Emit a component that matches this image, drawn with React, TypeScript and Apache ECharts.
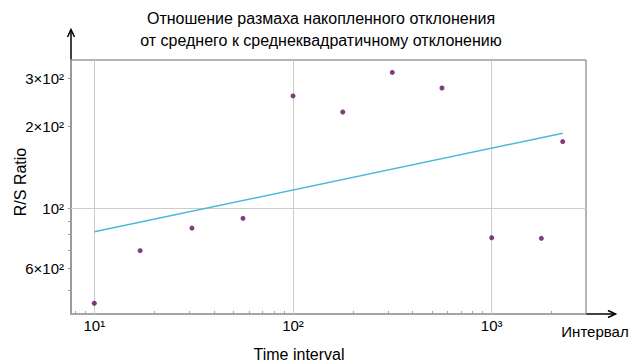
import React, { useEffect, useRef } from "react";
import * as echarts from "echarts";

const intervals = [10, 17, 31, 56, 100, 178, 316, 562, 1000, 1778, 2277];
const rsRatios = [44.8, 69.9, 84.6, 91.9, 259, 226, 316, 277, 78, 77.6, 176];
const fitX = [10, 2280];
const fitY = [82, 189];

const xLabelValues = [10, 100, 1000];
const xLabelTexts = ["10¹", "10²", "10³"];
const yLabelValues = [60, 100, 200, 300];
const yLabelTexts = ["6×10²", "10²", "2×10²", "3×10²"];
const xTickValues = [8, 9, 10, 20, 30, 40, 50, 60, 70, 80, 90, 100, 200, 300, 400, 500, 600, 700, 800, 900, 1000, 2000];
const yTickValues = [50, 60, 70, 80, 90, 100, 200, 300];
const xGridValues = [10, 100, 1000];
const yGridValues = [100];

const titleText = "Отношение размаха накопленного отклонения\nот среднего к среднеквадратичному отклонению";
const xName = "Time interval";
const yName = "R/S Ratio";
const arrowName = "Интервал";

const FONT = "Liberation Sans";

function near(a: number, b: number) {
  return Math.abs(a - b) < 1e-6 * Math.max(1, Math.abs(b));
}

export default function App() {
  const ref = useRef<HTMLDivElement>(null);
  useEffect(() => {
    document.body.style.margin = "0";
    const chart = echarts.init(ref.current!, null, { renderer: "svg" });
    const option: any = {
      animation: false,
      backgroundColor: "#ffffff",
      textStyle: { fontFamily: FONT },
      grid: {
        left: 71,
        right: 46,
        top: 60,
        bottom: 48,
        show: true,
        borderColor: "#6a6a6a",
        borderWidth: 1,
        backgroundColor: "transparent",
      },
      xAxis: {
        type: "log",
        logBase: 10,
        min: 7.63,
        max: 2983,
        axisLine: { show: true, lineStyle: { color: "#a0a0a0", width: 1.5 } },
        axisTick: {
          show: true,
          inside: true,
          length: 3,
          customValues: xTickValues,
          lineStyle: { color: "#a0a0a0" },
        },
        splitLine: { show: false },
        axisLabel: {
          show: true,
          customValues: xLabelValues,
          margin: 4,
          color: "#000",
          fontSize: 15,
          fontFamily: FONT,
          formatter: (v: number) => {
            const i = xLabelValues.findIndex((x) => near(x, v));
            return i >= 0 ? xLabelTexts[i] : "";
          },
        },
      },
      yAxis: {
        type: "log",
        logBase: 10,
        min: 40.9,
        max: 351,
        axisLine: { show: true, lineStyle: { color: "#9a9a9a", width: 2 } },
        axisTick: {
          show: true,
          length: 3,
          customValues: yTickValues,
          lineStyle: { color: "#9a9a9a" },
        },
        splitLine: { show: false },
        axisLabel: {
          show: true,
          customValues: yLabelValues,
          margin: 7,
          color: "#000",
          fontSize: 15,
          fontFamily: FONT,
          formatter: (v: number) => {
            const i = yLabelValues.findIndex((x) => near(x, v));
            return i >= 0 ? yLabelTexts[i] : "";
          },
        },
      },
      series: [
        {
          type: "line",
          data: fitX.map((x, i) => [x, fitY[i]]),
          showSymbol: false,
          symbol: "none",
          lineStyle: { color: "#4db8d8", width: 1.5 },
          z: 3,
          markLine: {
            silent: true,
            symbol: "none",
            label: { show: false },
            lineStyle: { color: "#cccccc", width: 1, type: "solid" },
            data: [
              ...xGridValues.map((v) => ({ xAxis: v })),
              ...yGridValues.map((v) => ({ yAxis: v })),
            ],
            z: 1,
          },
        },
        {
          type: "scatter",
          data: intervals.map((x, i) => [x, rsRatios[i]]),
          symbolSize: 5,
          itemStyle: { color: "#5c0c5e" },
          z: 4,
        },
      ],
      graphic: [
        {
          type: "text",
          x: 321,
          y: 7,
          style: {
            text: titleText,
            fontSize: 16,
            fontFamily: FONT,
            fill: "#000",
            align: "center",
            verticalAlign: "top",
            lineHeight: 22,
          },
        },
        {
          type: "text",
          x: 299,
          y: 354,
          style: {
            text: xName,
            fontSize: 16,
            fontFamily: FONT,
            fill: "#000",
            align: "center",
            verticalAlign: "middle",
          },
        },
        {
          type: "text",
          x: 20,
          y: 182,
          rotation: Math.PI / 2,
          style: {
            text: yName,
            fontSize: 16,
            fontFamily: FONT,
            fill: "#000",
            align: "center",
            verticalAlign: "middle",
          },
        },
        {
          type: "text",
          x: 595,
          y: 331,
          style: {
            text: arrowName,
            fontSize: 15,
            fontFamily: FONT,
            fill: "#000",
            align: "center",
            verticalAlign: "middle",
          },
        },
        {
          type: "line",
          shape: { x1: 71, y1: 60, x2: 71, y2: 30 },
          style: { stroke: "#000", lineWidth: 1.5 },
        },
        {
          type: "polyline",
          shape: { points: [[67.5, 37], [71, 29.5], [74.5, 37]] },
          style: { stroke: "#000", lineWidth: 1.5, fill: null },
        },
        {
          type: "line",
          shape: { x1: 586, y1: 314, x2: 615, y2: 314 },
          style: { stroke: "#000", lineWidth: 1.5 },
        },
        {
          type: "polyline",
          shape: { points: [[608, 310.5], [615.5, 314], [608, 317.5]] },
          style: { stroke: "#000", lineWidth: 1.5, fill: null },
        },
      ],
    };
    chart.setOption(option);
    return () => chart.dispose();
  }, []);
  return (
    <div
      ref={ref}
      style={{ position: "absolute", left: 0, top: 0, width: 632, height: 362 }}
    />
  );
}
